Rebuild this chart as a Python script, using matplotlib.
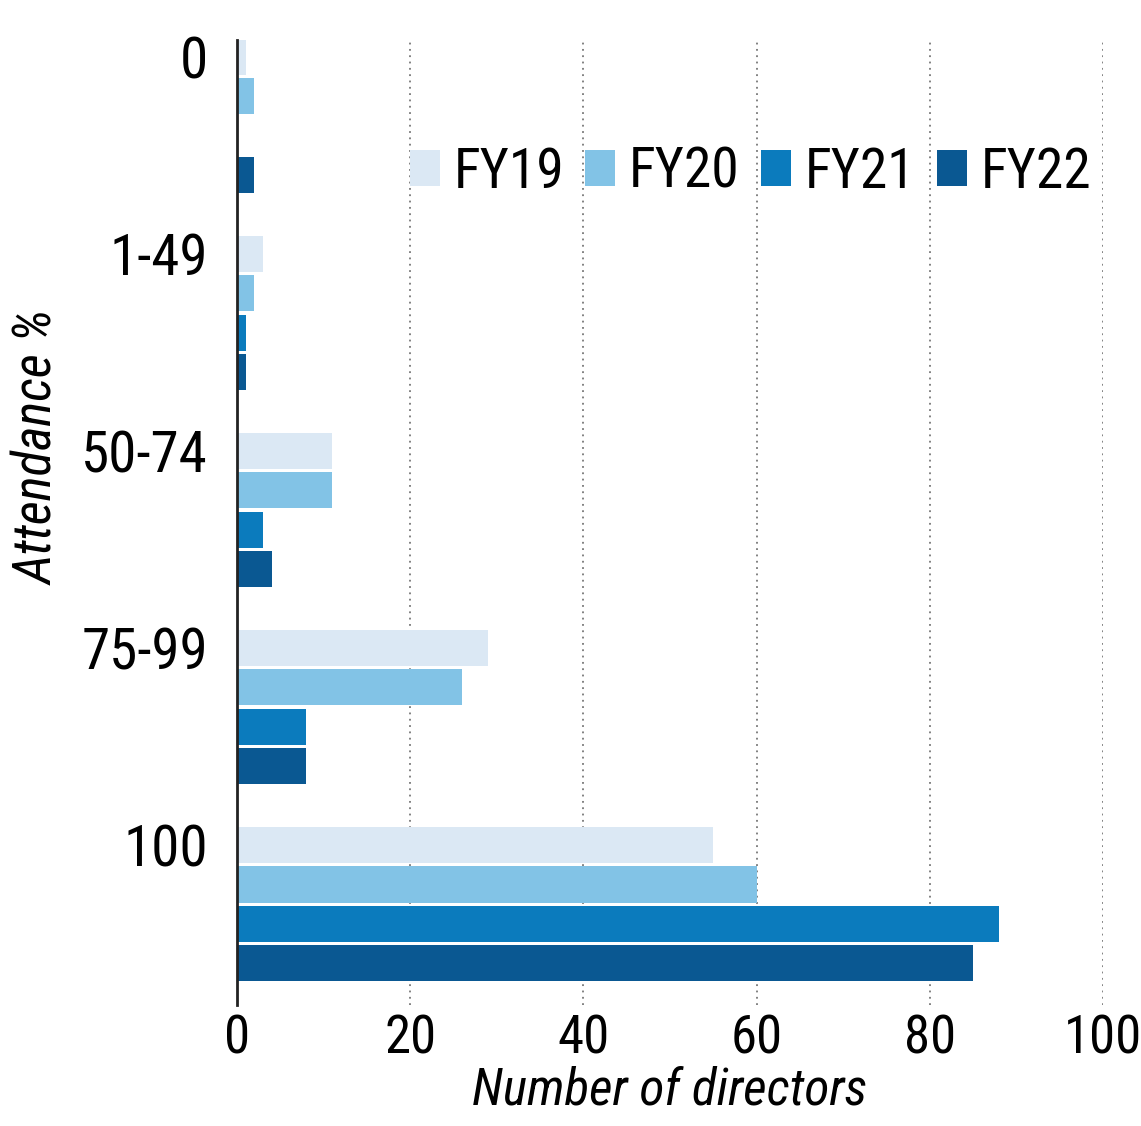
import matplotlib
matplotlib.use("Agg")
import matplotlib.pyplot as plt
import numpy as np

# attendance buckets and director counts per fiscal year
groups = ["0", "1-49", "50-74", "75-99", "100"]
years = ["FY19", "FY20", "FY21", "FY22"]
fy19 = [1, 3, 11, 29, 55]
fy20 = [2, 2, 11, 26, 60]
fy21 = [0, 1, 3, 8, 88]
fy22 = [2, 1, 4, 8, 85]
colors = ["#dbe8f4", "#82c3e6", "#0b7bbd", "#0a5892"]

plt.rcParams['font.family'] = ['Roboto Condensed', 'DejaVu Sans']
plt.rcParams['font.stretch'] = 'condensed'

fig = plt.figure(figsize=(11.41, 11.26), dpi=100)
ax = fig.add_axes([0.2077, 0.1075, 0.759, 0.857])

series = [fy19, fy20, fy21, fy22]
base = np.arange(len(groups)) * 5
for j, vals in enumerate(series):
    ax.barh(base + j, vals, height=0.92, color=colors[j], label=years[j],
            edgecolor='none', zorder=3)

ax.set_xlim(0, 100)
ax.set_ylim(24.06, -0.43)
ax.set_xticks([0, 20, 40, 60, 80, 100])
ax.set_yticks(base)
ax.set_yticklabels(groups)
ax.tick_params(axis='both', length=0)
ax.tick_params(axis='y', pad=21, labelsize=41)
ax.tick_params(axis='x', pad=6, labelsize=38)

ax.grid(axis='x', linestyle=(0, (1, 2.5)), color='#777777', linewidth=1.3, zorder=0)
for s in ['top', 'right', 'bottom']:
    ax.spines[s].set_visible(False)
ax.spines['left'].set_linewidth(2)
ax.spines['left'].set_color('#222222')
ax.spines['left'].set_zorder(4)

ax.set_xlabel("Number of directors", fontsize=37, style='italic', labelpad=1)
ax.set_ylabel("Attendance %", fontsize=38, style='italic')
ax.yaxis.set_label_coords(-0.199, 0.578)

ax.legend(loc='center right', bbox_to_anchor=(1.012, 0.863), ncol=4, frameon=False,
          fontsize=40, handlelength=0.54, handleheight=0.63, handletextpad=0.25,
          columnspacing=0.38, borderaxespad=0)

fig.savefig("out.png", dpi=100)
